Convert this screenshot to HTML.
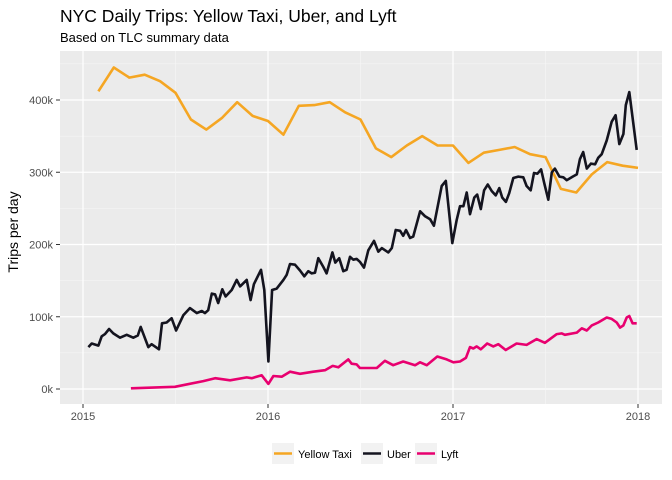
<!DOCTYPE html>
<html><head><meta charset="utf-8"><style>
body{margin:0;background:#fff;}
svg{display:block;font-family:"Liberation Sans",Arial,sans-serif;}
</style></head><body>
<svg id="chart" width="672" height="480" viewBox="0 0 672 480">
<text x="60" y="22" font-size="17.5" fill="#000">NYC Daily Trips: Yellow Taxi, Uber, and Lyft</text>
<text x="60" y="42" font-size="13" fill="#000">Based on TLC summary data</text>
<rect x="60" y="51" width="602" height="353" fill="#ebebeb"/>
<g id="grid"></g>
<g id="axes"></g>
<g id="series"></g>
<text transform="translate(18,232) rotate(-90)" text-anchor="middle" font-size="14" fill="#000">Trips per day</text>
<g id="legend"></g>
</svg>
<script>
const yTicks=[0,100,200,300,400];
const yTickLabels=["0k","100k","200k","300k","400k"];
const xTicks=[2015,2016,2017,2018];
const xTickLabels=["2015","2016","2017","2018"];
const seriesNames=["Yellow Taxi","Uber","Lyft"];
const seriesColors=["#f5a623","#14141f","#e8006f"];
const yellowMonths=[1,2,3,4,5,6,7,8,9,10,11,12,13,14,15,16,17,18,19,20,21,22,23,24,25,26,27,28,29,30,31,32,33,34,35,36];
const yellowValues=[412,445,431,435,426,410,373,359,375,397,378,371,352,392,393,397,383,373,333,321,337,350,337,337,313,327,331,335,325,321,277,272,297,314,309,306];
const uberT=[.029,.047,.083,.101,.119,.141,.164,.2,.236,.272,.296,.312,.353,.371,.411,.427,.452,.479,.503,.542,.578,.615,.642,.659,.677,.696,.714,.731,.753,.771,.804,.831,.849,.885,.906,.924,.962,.98,1.002,1.022,1.047,1.083,1.101,1.119,1.146,1.173,1.196,1.218,1.236,1.254,1.272,1.299,1.317,1.348,1.364,1.385,1.407,1.425,1.443,1.461,1.479,1.497,1.519,1.542,1.573,1.596,1.615,1.65,1.669,1.69,1.714,1.731,1.746,1.768,1.785,1.822,1.849,1.876,1.897,1.939,1.961,1.996,2.02,2.038,2.056,2.074,2.092,2.115,2.131,2.15,2.168,2.188,2.209,2.231,2.25,2.266,2.286,2.304,2.326,2.353,2.38,2.398,2.42,2.438,2.456,2.476,2.494,2.515,2.534,2.551,2.575,2.596,2.615,2.647,2.669,2.686,2.704,2.723,2.746,2.768,2.785,2.804,2.831,2.858,2.879,2.899,2.921,2.934,2.953,2.993];
const uberValues=[58,63,60,73,76,83,77,71,75,71,74,86,58,62,55,91,92,98,81,102,112,105,108,105,109,132,131,119,138,128,137,151,142,151,123,145,165,137,38,137,139,151,158,173,172,164,156,163,160,161,181,169,160,189,175,181,163,165,183,179,180,176,168,192,205,190,195,189,195,220,219,212,220,209,211,246,239,235,226,281,288,202,234,253,253,272,242,265,269,249,275,283,274,268,278,265,259,271,292,294,293,281,275,299,298,304,284,262,300,305,294,293,289,294,297,318,328,305,312,311,320,325,344,370,379,339,353,393,411,331];
const lyftT=[.259,.497,.65,.714,.795,.885,.912,.966,1.002,1.029,1.074,1.119,1.173,1.245,1.308,1.35,1.38,1.434,1.452,1.479,1.497,1.588,1.632,1.677,1.731,1.795,1.822,1.858,1.915,1.966,2.002,2.038,2.07,2.092,2.11,2.128,2.15,2.185,2.218,2.245,2.285,2.344,2.398,2.452,2.497,2.561,2.588,2.605,2.669,2.696,2.723,2.75,2.785,2.831,2.858,2.885,2.903,2.921,2.939,2.953,2.971,2.993];
const lyftValues=[1,3,11,15,12,16,15,19,7,18,17,24,21,24,26,32,30,41,35,34,29,29,39,33,38,33,37,33,45,41,37,38,43,58,56,59,55,63,59,62,54,63,61,69,64,76,77,75,78,84,81,88,92,99,97,92,85,88,99,101,91,91];

const NS="http://www.w3.org/2000/svg";
const X=t=>83+(t-2015)*185;
const Y=v=>389-v*0.7225;
function mk(tag,attrs,parent){const e=document.createElementNS(NS,tag);for(const k in attrs)e.setAttribute(k,attrs[k]);parent.appendChild(e);return e;}
const grid=document.getElementById('grid'),axes=document.getElementById('axes'),ser=document.getElementById('series'),leg=document.getElementById('legend');
for(let i=0;i<yTicks.length;i++){
  const mn=yTicks[i]+50;
  if(Y(mn)>51){const m=mk('line',{x1:60,x2:662,y1:Y(mn),y2:Y(mn),stroke:'#f7f7f7','stroke-width':0.6},grid);
  
  }
  const g=mk('line',{x1:60,x2:662,y1:Y(yTicks[i]),y2:Y(yTicks[i]),stroke:'#fff','stroke-width':1.2},grid);
  
  
  const tk=mk('line',{x1:56,x2:60,y1:Y(yTicks[i]),y2:Y(yTicks[i]),stroke:'#333','stroke-width':1},axes);
  
  
  const t=mk('text',{x:53,y:Y(yTicks[i])+4,'text-anchor':'end','font-size':11,fill:'#4d4d4d'},axes);
  t.textContent=yTickLabels[i];
  
  
}
for(let i=0;i<xTicks.length;i++){
  if(i<xTicks.length-1){const m=mk('line',{x1:X(xTicks[i]+0.5),x2:X(xTicks[i]+0.5),y1:51,y2:404,stroke:'#f7f7f7','stroke-width':0.6},grid);
  
  }
  const g=mk('line',{x1:X(xTicks[i]),x2:X(xTicks[i]),y1:51,y2:404,stroke:'#fff','stroke-width':1.2},grid);
  
  
  const tk=mk('line',{x1:X(xTicks[i]),x2:X(xTicks[i]),y1:404,y2:408,stroke:'#333','stroke-width':1},axes);
  
  
  const t=mk('text',{x:X(xTicks[i]),y:420,'text-anchor':'middle','font-size':11,fill:'#4d4d4d'},axes);
  t.textContent=xTickLabels[i];
  
  
}
function line(ts,vs,color,name){
  const d=ts.map((t,i)=>(i?'L':'M')+X(t).toFixed(1)+','+Y(vs[i]).toFixed(1)).join('');
  const p=mk('path',{d:d,fill:'none',stroke:color,'stroke-width':2.6,'stroke-linejoin':'round'},ser);
  
  
}
line(yellowMonths.map(m=>2015+m/12),yellowValues,seriesColors[0],'yellow-taxi-line');
line(uberT.map(t=>2015+t),uberValues,seriesColors[1],'uber-line');
line(lyftT.map(t=>2015+t),lyftValues,seriesColors[2],'lyft-line');
const legX=[272,361,415];
for(let i=0;i<seriesNames.length;i++){
  const r=mk('rect',{x:legX[i],y:443,width:22,height:21,fill:'#f2f2f2'},leg);
  
  
  const l=mk('line',{x1:legX[i]+2,x2:legX[i]+20,y1:453.5,y2:453.5,stroke:seriesColors[i],'stroke-width':2.6},leg);
  
  
  const t=mk('text',{x:legX[i]+26,y:458,'font-size':11,fill:'#000'},leg);
  t.textContent=seriesNames[i];
  
  
}
</script>
</body></html>
